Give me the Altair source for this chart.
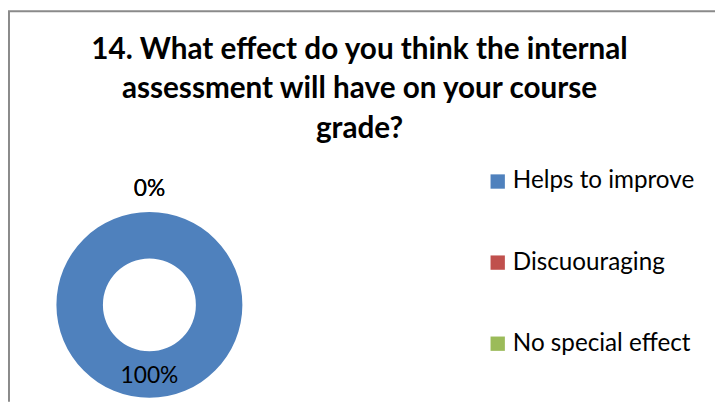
import altair as alt
import pandas as pd

categories = ["Helps to improve", "Discuouraging", "No special effect"]
values = [100, 0, 0]
colors = ["#4F81BD", "#C0504D", "#9BBB59"]
title_lines = [
    "14. What effect do you think the internal",
    "assessment will have on your course",
    "grade?",
]

df = pd.DataFrame({
    "category": categories,
    "value": values,
    "order": list(range(len(categories))),
    "label": [f"{v}%" for v in values],
})

CX, CY = 143, 138

base = alt.Chart(df).encode(
    theta=alt.Theta("value:Q", stack=True),
    order=alt.Order("order:Q"),
)

arc = base.mark_arc(outerRadius=94, innerRadius=47).encode(
    color=alt.Color(
        "category:N",
        sort=categories,
        scale=alt.Scale(domain=categories, range=colors),
        legend=alt.Legend(
            title=None,
            orient="none",
            legendX=483,
            legendY=1,
            symbolType="square",
            symbolSize=210,
            symbolStrokeWidth=0,
            symbolOpacity=1,
            labelFontSize=24.5,
            labelFont="Lato",
            labelColor="#000000",
            labelOffset=3,
            labelLimit=400,
            rowPadding=57,
            padding=0,
        ),
    ),
    x=alt.value(CX),
    y=alt.value(CY),
)

label_big = base.transform_filter("datum.value > 0").mark_text(
    radius=72, fontSize=23, font="Lato", color="#000000", baseline="middle", align="center"
).encode(text="label:N", detail="category:N", x=alt.value(CX), y=alt.value(CY))

label_zero = base.transform_filter("datum.value == 0").mark_text(
    radius=117, fontSize=23, font="Lato", color="#000000", baseline="middle", align="center"
).encode(text="label:N", detail="category:N", x=alt.value(CX), y=alt.value(CY))

frame_src = alt.Data(values=[{"f": 1}])
frame_left = alt.Chart(frame_src).mark_rule(color="#8a8a8a", strokeWidth=2).encode(
    x=alt.value(1), y=alt.value(-159), y2=alt.value(236)
)
frame_top = alt.Chart(frame_src).mark_rule(color="#8a8a8a", strokeWidth=2).encode(
    x=alt.value(0), x2=alt.value(715), y=alt.value(-159)
)

chart = alt.layer(frame_left, frame_top, arc, label_big, label_zero).properties(
    width=715,
    height=236,
    background="white",
    padding={"left": 0, "top": 160, "right": 0, "bottom": 0},
    autosize=alt.AutoSizeParams(type="none"),
    title=alt.TitleParams(
        text=title_lines,
        font="Lato",
        fontSize=30,
        fontWeight="bold",
        color="#000000",
        lineHeight=40,
        anchor="middle",
        frame="group",
        baseline="bottom",
        offset=-165,
        dx=-2,
    ),
).configure_view(stroke=None, strokeWidth=0)

chart.save("out.html", embed_options={"renderer": "svg", "actions": False})
